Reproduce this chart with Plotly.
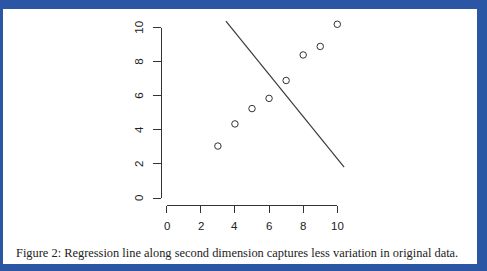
import plotly.graph_objects as go

# ---- data ----
x_points = [3, 4, 5, 6, 7, 8, 9, 10]
y_points = [3.05, 4.35, 5.25, 5.85, 6.9, 8.4, 8.9, 10.2]
line_x = [3.47, 10.4]
line_y = [10.39, 1.82]
tick_vals = [0, 2, 4, 6, 8, 10]
tick_text = ["0", "2", "4", "6", "8", "10"]
caption = "Figure 2: Regression line along second dimension captures less variation in original data."

W, H = 487, 271
BLUE = "#2a56a3"
# pixel positions of axis values 0 and 10
px0, px10 = 166.7, 337.3
py0, py10 = 198.0, 27.7
sx = (px10 - px0) / 10.0
sy = (py0 - py10) / 10.0

# data area (wider than axes so the line is not clipped)
dx_l, dx_r = 140, 370
dy_b, dy_t = 215, 12
x_range = [(dx_l - px0) / sx, (dx_r - px0) / sx]
y_range = [(py0 - dy_b) / sy, (py0 - dy_t) / sy]

fig = go.Figure()
fig.add_trace(go.Scatter(
    x=x_points, y=y_points, mode="markers",
    marker=dict(symbol="circle-open", size=6.5, color="#333333", line=dict(width=1)),
    showlegend=False, hoverinfo="skip"))
fig.add_trace(go.Scatter(
    x=line_x, y=line_y, mode="lines",
    line=dict(color="#3a3a3a", width=1.2),
    showlegend=False, hoverinfo="skip"))
# dummy trace for the display axes
fig.add_trace(go.Scatter(x=[None], y=[None], xaxis="x2", yaxis="y2",
                         showlegend=False, hoverinfo="skip"))

axis_font = dict(family="Liberation Sans, Arial, sans-serif", size=11.5, color="#222222")

annotations = []
for v, t in zip(tick_vals, tick_text):
    annotations.append(dict(text=t, xref="x2", yref="paper", x=v, y=1 - 225.5 / H,
                            xanchor="center", yanchor="middle", showarrow=False,
                            font=axis_font))
    annotations.append(dict(text=t, xref="paper", yref="y2", x=139 / W, y=v,
                            xanchor="center", yanchor="middle", showarrow=False,
                            textangle=-90, font=axis_font))
annotations.append(dict(text=caption, xref="paper", yref="paper",
                        x=14 / W, y=1 - 253 / H, xanchor="left", yanchor="middle",
                        showarrow=False,
                        font=dict(family="Liberation Serif, DejaVu Serif, serif", size=12.4,
                                  color="#222222")))

fig.update_layout(
    template="none",
    width=W, height=H,
    margin=dict(l=0, r=0, t=0, b=0, autoexpand=False),
    paper_bgcolor=BLUE,
    plot_bgcolor="rgba(0,0,0,0)",
    xaxis=dict(domain=[dx_l / W, dx_r / W], range=x_range, visible=False,
               fixedrange=True, automargin=False),
    yaxis=dict(domain=[1 - dy_b / H, 1 - dy_t / H], range=y_range, visible=False,
               fixedrange=True, automargin=False),
    xaxis2=dict(domain=[px0 / W, px10 / W], range=[0, 10], anchor="free",
                position=1 - 205 / H, showline=True, linecolor="#333333", linewidth=1,
                ticks="outside", ticklen=6.5, tickcolor="#333333", tickwidth=1,
                tickvals=tick_vals, showticklabels=False, showgrid=False, zeroline=False,
                fixedrange=True, automargin=False),
    yaxis2=dict(domain=[1 - py0 / H, 1 - py10 / H], range=[0, 10], anchor="free",
                position=160.7 / W, showline=True, linecolor="#333333", linewidth=1,
                ticks="outside", ticklen=8, tickcolor="#333333", tickwidth=1,
                tickvals=tick_vals, showticklabels=False, showgrid=False, zeroline=False,
                fixedrange=True, automargin=False),
    shapes=[dict(type="rect", xref="paper", yref="paper",
                 x0=3 / W, x1=477 / W, y0=1 - 264 / H, y1=1 - 9 / H,
                 fillcolor="white", line=dict(width=0), layer="below")],
    annotations=annotations,
)

fig.write_html(
    "out.html",
    config={"displayModeBar": False, "staticPlot": True},
    post_script="document.body.style.margin='0';document.body.style.padding='0';"
                "document.body.style.background='" + BLUE + "';"
                "document.body.style.overflow='hidden';",
)
